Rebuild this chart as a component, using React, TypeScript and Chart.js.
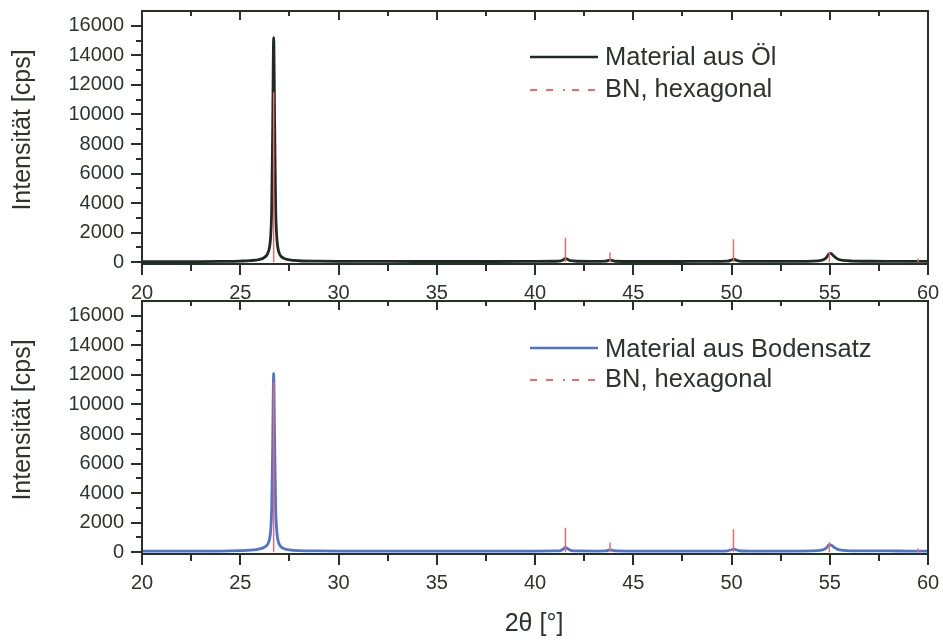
import React, { useEffect, useRef } from "react";
import { Chart, registerables } from "chart.js";

Chart.register(...registerables);

// ---------- data ----------
const twoTheta = [
  20, 21, 22, 23, 24, 25, 25.5, 26, 26.2, 26.4, 26.5, 26.55, 26.6, 26.65, 26.7, 26.75, 26.8, 26.85, 26.9, 27.0,
  27.2, 27.5, 28, 29, 30, 32, 34, 36, 38, 40, 41, 41.3, 41.45, 41.55, 41.65, 41.8, 42.2, 43, 43.6, 43.75,
  43.82, 43.9, 44.1, 45, 47, 49, 49.8, 50.0, 50.1, 50.2, 50.4, 51, 53, 54.4, 54.7, 54.85, 54.95, 55.05, 55.2, 55.4,
  55.7, 56.2, 57, 58, 59, 60,
];
const intensityOel = [
  40, 40, 45, 45, 55, 80, 110, 200, 300, 600, 1100, 1800, 3600, 9000, 15200, 9500, 3800, 1900, 1100, 550,
  280, 160, 100, 70, 60, 55, 50, 50, 50, 55, 65, 90, 170, 260, 200, 100, 65, 55, 70, 120,
  150, 120, 65, 50, 50, 55, 70, 150, 200, 160, 75, 55, 55, 90, 180, 350, 550, 600, 420, 220,
  120, 80, 65, 60, 60, 60,
];
const intensityBodensatz = [
  70, 70, 70, 75, 80, 110, 140, 230, 320, 550, 950, 1500, 3000, 7200, 12100, 7500, 3100, 1600, 950, 500,
  260, 160, 110, 90, 80, 75, 70, 70, 70, 75, 85, 110, 220, 330, 250, 130, 85, 80, 90, 140,
  170, 140, 85, 75, 75, 75, 95, 170, 220, 180, 100, 80, 80, 110, 180, 320, 480, 500, 350, 190,
  120, 95, 85, 85, 80, 80,
];
const bnPositions = [26.7, 41.55, 43.82, 50.1, 54.98, 59.5];
const bnHeights = [11500, 1650, 650, 1550, 700, 250];

const xTickValues = [20, 25, 30, 35, 40, 45, 50, 55, 60];
const xMinorTicks = [22.5, 27.5, 32.5, 37.5, 42.5, 47.5, 52.5, 57.5];
const yTickValues = [0, 2000, 4000, 6000, 8000, 10000, 12000, 14000, 16000];
const yMinorTicks = [1000, 3000, 5000, 7000, 9000, 11000, 13000, 15000];

const seriesLabelOel = "Material aus Öl";
const seriesLabelBoden = "Material aus Bodensatz";
const bnLabel = "BN, hexagonal";
const yTitle = "Intensität [cps]";
const xTitle = "2θ [°]";

// ---------- styles ----------
const FONT = "'Liberation Sans', Arial, sans-serif";
const TEXT_COLOR = "#2c342d";
const AXIS_COLOR = "#263126";
const RED = "#ef6b6b";

type PanelProps = {
  values: number[];
  color: string;
  label: string;
  top: number;
  height: number;
  padTop: number;
  axisHeight: number;
  legendRows: { line: number; base: number }[];
  yTitleY: number;
  showXTitle: boolean;
};

function Panel(p: PanelProps) {
  const ref = useRef<HTMLCanvasElement | null>(null);
  useEffect(() => {
    if (!ref.current) return;
    const sticks: { x: number; y: number | null }[] = [];
    bnPositions.forEach((x, i) => {
      sticks.push({ x, y: 0 });
      sticks.push({ x, y: bnHeights[i] });
      sticks.push({ x, y: null });
    });
    const decor = {
      id: "decor",
      afterDatasetsDraw(chart: any) {
        const { ctx, chartArea: a, scales } = chart;
        const xs = scales.x;
        const ys = scales.y;
        ctx.save();
        ctx.strokeStyle = AXIS_COLOR;
        ctx.lineWidth = 2;
        ctx.setLineDash([]);
        ctx.strokeRect(a.left, a.top, a.right - a.left, a.bottom - a.top);
        ctx.beginPath();
        xTickValues.forEach((v) => {
          const px = Math.round(xs.getPixelForValue(v));
          ctx.moveTo(px, a.bottom);
          ctx.lineTo(px, a.bottom + 11);
          ctx.moveTo(px, a.top);
          ctx.lineTo(px, a.top + 9);
        });
        xMinorTicks.forEach((v) => {
          const px = Math.round(xs.getPixelForValue(v));
          ctx.moveTo(px, a.bottom);
          ctx.lineTo(px, a.bottom + 7);
          ctx.moveTo(px, a.top);
          ctx.lineTo(px, a.top + 5);
        });
        yTickValues.forEach((v) => {
          const py = Math.round(ys.getPixelForValue(v));
          ctx.moveTo(a.left - 11, py);
          ctx.lineTo(a.left, py);
        });
        yMinorTicks.forEach((v) => {
          const py = Math.round(ys.getPixelForValue(v));
          ctx.moveTo(a.left - 6, py);
          ctx.lineTo(a.left, py);
        });
        ctx.stroke();

        // legend
        const lx0 = 530;
        const lx1 = 598;
        const tx = 605;
        ctx.font = `25.5px ${FONT}`;
        ctx.fillStyle = TEXT_COLOR;
        ctx.textAlign = "left";
        ctx.textBaseline = "alphabetic";
        const r0 = p.legendRows[0];
        ctx.strokeStyle = p.color;
        ctx.lineWidth = 2.5;
        ctx.beginPath();
        ctx.moveTo(lx0, r0.line);
        ctx.lineTo(lx1, r0.line);
        ctx.stroke();
        ctx.fillText(p.label, tx, r0.base);
        const r1 = p.legendRows[1];
        ctx.strokeStyle = RED;
        ctx.lineWidth = 2;
        ctx.setLineDash([7, 9, 7, 10, 2, 7]);
        ctx.beginPath();
        ctx.moveTo(lx0, r1.line);
        ctx.lineTo(lx1, r1.line);
        ctx.stroke();
        ctx.setLineDash([]);
        ctx.fillText(bnLabel, tx, r1.base);

        // y title
        ctx.save();
        ctx.translate(30, p.yTitleY);
        ctx.rotate(-Math.PI / 2);
        ctx.font = `25px ${FONT}`;
        ctx.textAlign = "center";
        ctx.textBaseline = "alphabetic";
        ctx.fillText(yTitle, 0, 0);
        ctx.restore();

        if (p.showXTitle) {
          ctx.font = `25px ${FONT}`;
          ctx.textAlign = "center";
          ctx.textBaseline = "alphabetic";
          ctx.fillText(xTitle, 534, 342);
        }
        ctx.restore();
      },
    };

    const chart = new Chart(ref.current, {
      type: "line",
      data: {
        datasets: [
          {
            label: bnLabel,
            data: sticks as any,
            borderColor: RED,
            borderWidth: 1.5,
            pointRadius: 0,
            spanGaps: false,
            tension: 0,
          },
          {
            label: p.label,
            data: twoTheta.map((x, i) => ({ x, y: p.values[i] })) as any,
            borderColor: p.color,
            borderWidth: 2.8,
            pointRadius: 0,
            cubicInterpolationMode: "monotone",
          },
        ],
      },
      options: {
        responsive: false,
        animation: false,
        events: [],
        layout: { padding: { left: 0, right: 15, top: p.padTop, bottom: 0 } },
        plugins: { legend: { display: false }, tooltip: { enabled: false } },
        scales: {
          x: {
            type: "linear",
            min: 20,
            max: 60,
            afterBuildTicks: (s: any) => {
              s.ticks = xTickValues.map((v) => ({ value: v }));
            },
            afterFit: (s: any) => {
              s.height = p.axisHeight;
              s.paddingLeft = 0;
              s.paddingRight = 0;
              s.paddingTop = 0;
              s.paddingBottom = 0;
            },
            ticks: {
              font: { family: FONT, size: 20 },
              color: TEXT_COLOR,
              padding: 17,
              maxRotation: 0,
              autoSkip: false,
              callback: (v: any) => String(v),
            },
            grid: { display: false, drawTicks: false },
            border: { display: false },
          },
          y: {
            type: "linear",
            min: -120,
            max: 17000,
            afterBuildTicks: (s: any) => {
              s.ticks = yTickValues.map((v) => ({ value: v }));
            },
            afterFit: (s: any) => {
              s.width = 142;
              s.paddingLeft = 0;
              s.paddingRight = 0;
              s.paddingTop = 0;
              s.paddingBottom = 0;
            },
            ticks: {
              font: { family: FONT, size: 20 },
              color: TEXT_COLOR,
              padding: 18,
              autoSkip: false,
              callback: (v: any) => String(v),
            },
            grid: { display: false, drawTicks: false },
            border: { display: false },
          },
        },
      },
      plugins: [decor],
    } as any);
    return () => chart.destroy();
  }, []);
  return (
    <canvas
      ref={ref}
      width={943}
      height={p.height}
      style={{ position: "absolute", left: 0, top: p.top, width: 943, height: p.height }}
    />
  );
}

export default function App() {
  return (
    <div style={{ position: "absolute", left: 0, top: 0, width: 943, height: 640, background: "#ffffff" }}>
      <Panel
        values={intensityOel}
        color="#1f2a22"
        label={seriesLabelOel}
        top={0}
        height={300}
        padTop={11}
        axisHeight={36}
        legendRows={[
          { line: 57, base: 65 },
          { line: 90, base: 97 },
        ]}
        yTitleY={130}
        showXTitle={false}
      />
      <Panel
        values={intensityBodensatz}
        color="#4f73cf"
        label={seriesLabelBoden}
        top={289}
        height={351}
        padTop={12}
        axisHeight={86}
        legendRows={[
          { line: 59, base: 68 },
          { line: 91, base: 98 },
        ]}
        yTitleY={131}
        showXTitle={true}
      />
    </div>
  );
}
